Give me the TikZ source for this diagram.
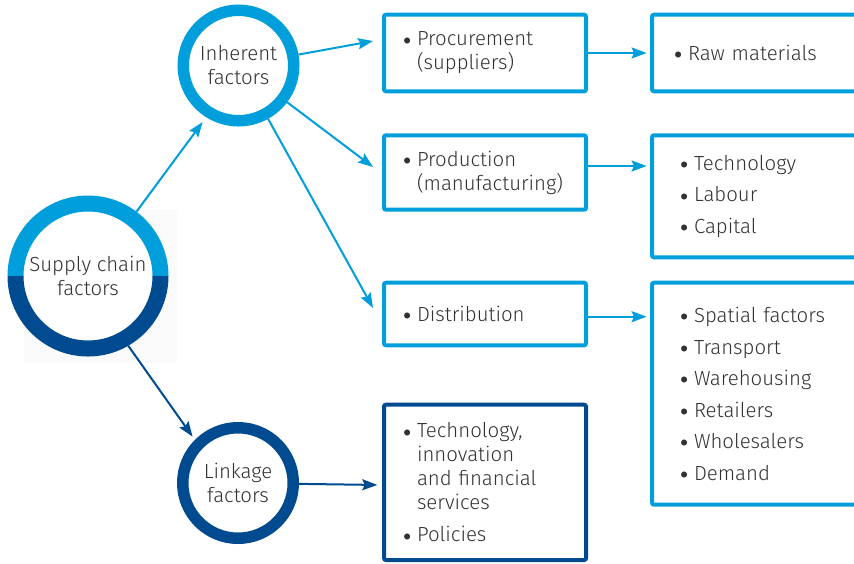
\documentclass[tikz,border=0pt]{standalone}
\usepackage{fontspec}
\setmainfont{Fira Sans}[UprightFont=* Light]
\usetikzlibrary{positioning,arrows.meta}
\definecolor{lightblue}{RGB}{0,158,219}
\definecolor{darkblue}{RGB}{0,74,143}
\definecolor{txtgray}{RGB}{50,50,50}
\newcommand{\bul}{\makebox[7pt][l]{\raisebox{0.8pt}{\scriptsize$\bullet$}}}
\newcommand{\ind}{\hspace*{7pt}}

\begin{document}
\begin{tikzpicture}[
    x=0.5pt, y=-0.5pt,
    font=\fontsize{10.2}{12}\selectfont, text=txtgray,
    ring/.style={circle, line width=5.75pt, minimum size=55.25pt, inner sep=0pt, align=center, fill=white},
    factbox/.style={draw, line width=2pt, rounded corners=1pt, anchor=north west, align=left, inner ysep=0pt},
    leftbox/.style={factbox, text width=82pt, inner xsep=9.5pt},
    rightbox/.style={factbox, text width=92pt, inner xsep=14pt},
    arr/.style={-{Stealth[length=7.5pt,width=5.5pt,inset=1.2pt]}, line width=1pt},
]
    \useasboundingbox (0,0) rectangle (854,563);
    \fill[black!2] (24,210) rectangle (177,363);

    %circles
    \node[circle, fill=white, minimum size=80.5pt, inner sep=0pt, outer sep=0pt, align=center] (scf) at (88,276) {Supply chain\\factors};
    \draw[lightblue, line width=8pt] (scf.center) ++(-72.5,0) arc[start angle=180, end angle=360, radius=72.5];
    \draw[darkblue, line width=8pt] (scf.center) ++(72.5,0) arc[start angle=0, end angle=180, radius=72.5];
    \node[ring, draw=lightblue] (inh) at (238.5,65.5) {Inherent\\factors};
    \node[ring, draw=darkblue] (link) at (238,483) {Linkage\\factors};

    %boxes
    \node[leftbox, draw=lightblue, minimum height=38.3pt] (proc) at (382,12.7) {\bul Procurement\\\ind (suppliers)};
    \node[leftbox, draw=lightblue, minimum height=37.2pt, below=20pt of proc.south west, anchor=north west] (prod) {\bul Production\\\ind (manufacturing)};
    \node[leftbox, draw=lightblue, minimum height=31.3pt, below=34.5pt of prod.south west, anchor=north west] (dist) {\bul Distribution};
    \node[leftbox, draw=darkblue, minimum height=77.65pt, below=27.7pt of dist.south west, anchor=north west] (tinn) {\bul Technology,\\\ind innovation\\\ind and financial\\\ind services\\[4pt]\bul Policies};
    \node[rightbox, draw=lightblue, minimum height=38.3pt, inner xsep=11pt, right=31pt of proc.north east, anchor=north west] (raw) {\bul Raw materials};
    \node[rightbox, draw=lightblue, minimum height=61pt, right=31pt of prod.north east, anchor=north west] (tech) {\bul Technology\\[3.75pt]\bul Labour\\[3.75pt]\bul Capital};
    \node[rightbox, draw=lightblue, minimum height=111pt, right=31pt of dist.north east, anchor=north west] (spat) {\bul Spatial factors\\[3.75pt]\bul Transport\\[3.75pt]\bul Warehousing\\[3.75pt]\bul Retailers\\[3.75pt]\bul Wholesalers\\[3.75pt]\bul Demand};

    %arrows
    \draw[arr, lightblue, shorten >=3pt] (scf.53) -- (inh.-122);
    \draw[arr, darkblue, shorten >=2pt] (scf.-60) -- (link.135);
    \draw[arr, lightblue] (inh) -- ([shift={(-9,-12)}]proc.west);
    \draw[arr, lightblue] (inh) -- ([shift={(-9,-5.5)}]prod.west);
    \draw[arr, lightblue] (inh) -- ([shift={(-9,-6)}]dist.west);
    \draw[arr, darkblue] (link) -- ([shift={(-4.7,2.6)}]tinn.west);
    \draw[arr, lightblue, shorten >=1.7pt] (proc) -- (raw);
    \draw[arr, lightblue, shorten >=1.7pt] ([yshift=3.25pt]prod.east) -- ([yshift=3.25pt]prod.east -| tech.west);
    \draw[arr, lightblue, shorten >=1.7pt] ([yshift=-1.35pt]dist.east) -- ([yshift=-1.35pt]dist.east -| spat.west);
\end{tikzpicture}
\end{document}
